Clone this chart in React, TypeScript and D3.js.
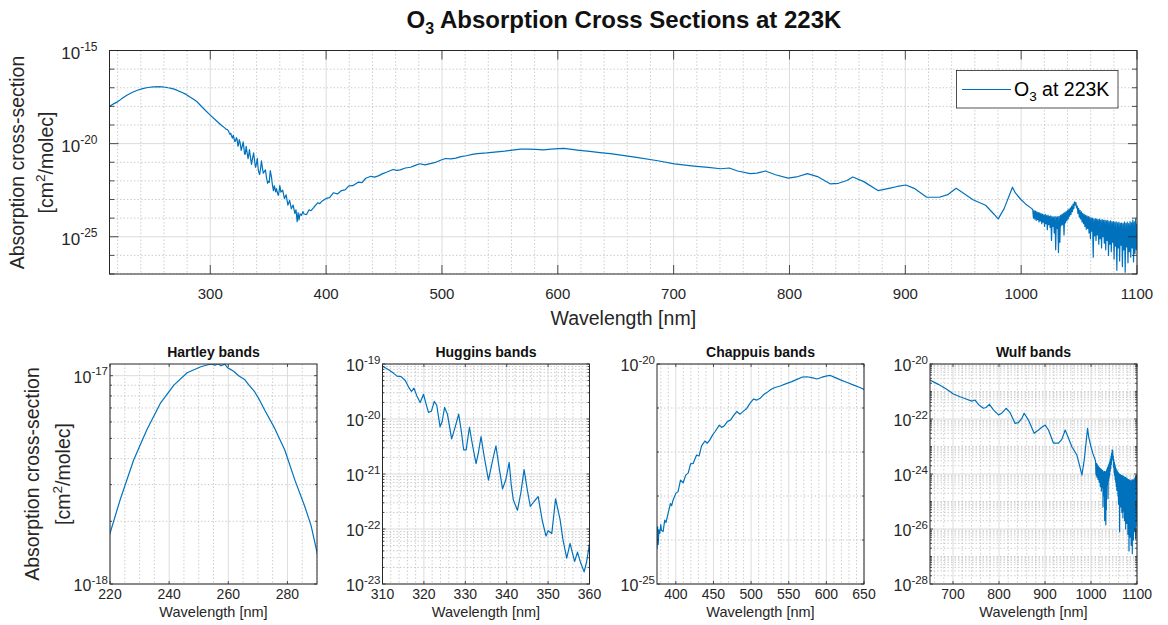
import React from 'react';
import * as d3 from 'd3';

// ---------- DATA: [wavelength nm, log10(cross-section cm^2/molec)] ----------
const uvEdge: [number, number][] = [
  [213, -18.0], [216, -17.88],
];
const hartleyBand: [number, number][] = [
  [220, -17.757], [223.4, -17.597], [228, -17.405], [232.5, -17.258], [237, -17.133],
  [241.6, -17.045], [246.1, -16.986], [250.7, -16.957], [252.5, -16.95], [254.1, -16.944],
  [255.5, -16.95], [256.5, -16.942], [257.5, -16.952], [258.8, -16.945], [259.8, -16.962],
  [261, -16.972], [262, -16.981], [263.5, -17.0], [265.5, -17.018], [267, -17.045],
  [268.9, -17.077], [270.5, -17.115], [272.3, -17.165], [275.7, -17.253], [279.1, -17.357],
  [282.5, -17.5], [285.9, -17.629], [288, -17.72], [290.2, -17.86],
];
const hartleyHugginsGap: [number, number][] = [
  [295, -18.17], [300, -18.47], [305, -18.76],
];
const hugginsBand: [number, number][] = [
  [310, -19.04], [311.4, -19.1], [312.7, -19.17], [313.5, -19.22], [314.5, -19.23],
  [315.5, -19.3], [316.3, -19.42], [317, -19.5], [317.6, -19.44], [318.3, -19.58],
  [319.1, -19.7], [319.9, -19.55], [320.5, -19.72], [321.1, -19.88], [321.8, -19.86],
  [322.5, -19.68], [323.1, -19.75], [323.9, -20.14], [324.4, -20.05], [325, -19.79],
  [325.7, -19.92], [326.7, -20.36], [327.5, -20.16], [328.4, -19.91], [329, -20.2],
  [329.6, -20.56], [330.2, -20.56], [331, -20.15], [331.8, -20.5], [332.6, -20.81],
  [333.2, -20.6], [333.8, -20.32], [334.6, -20.7], [335.6, -21.11], [336.6, -20.75],
  [337.4, -20.49], [338.2, -20.9], [339, -21.27], [339.8, -21.1], [340.6, -20.79],
  [341.1, -21.2], [341.6, -21.47], [342.6, -21.66], [343.4, -21.35], [344.2, -20.92],
  [345, -21.3], [345.7, -21.59], [346.6, -21.5], [347.6, -21.41], [348.6, -21.85],
  [349.5, -22.13], [350, -22.03], [350.9, -22.08], [351.8, -21.45], [352.9, -21.83],
  [353.6, -22.2], [354.5, -22.53], [355.3, -22.26], [356.4, -22.59], [357.1, -22.42],
  [357.8, -22.6], [358.7, -22.78], [359.3, -22.6], [360, -22.26],
];
const hugginsTail: [number, number][] = [
  [361, -22.6], [362.5, -22.5], [364, -22.95], [365.5, -22.75], [367, -23.3],
  [368.5, -23.05], [370, -23.5], [371.5, -23.3], [373, -23.75], [374, -23.55],
];
const chappuisBand: [number, number][] = [
  [375, -24.19], [375.8, -23.7], [376.6, -24.1], [377.5, -23.77], [378.7, -23.85],
  [380, -23.65], [380.9, -23.78], [383.1, -23.81], [385.3, -23.55], [387, -23.6],
  [389.8, -23.39], [392.9, -23.17], [394.5, -23.22], [396.4, -23.09], [400, -22.94],
  [403, -22.9], [406.2, -22.64], [409.8, -22.7], [413.3, -22.52], [416.4, -22.48],
  [419.6, -22.27], [423, -22.26], [427.6, -22.07], [431, -22.09], [434.2, -21.86],
  [438.7, -21.75], [441.8, -21.8], [445, -21.73], [448.9, -21.61], [452, -21.54],
  [457.8, -21.39], [460.9, -21.44], [464, -21.41], [468.4, -21.31], [472.9, -21.27],
  [476.4, -21.18], [480.9, -21.08], [485.3, -21.14], [490.7, -21.06], [494.2, -21.01],
  [498.7, -20.89], [503.1, -20.8], [507.6, -20.82], [512, -20.78], [516.4, -20.7],
  [520.9, -20.65], [526.2, -20.58], [530.7, -20.54], [538.7, -20.5], [547.6, -20.44],
  [554.2, -20.4], [560.9, -20.35], [567.6, -20.3], [574.2, -20.29], [580.9, -20.31],
  [587.6, -20.34], [594.2, -20.3], [600.9, -20.27], [605.3, -20.26], [612, -20.31],
  [618.7, -20.36], [627.6, -20.42], [636.4, -20.48], [645.3, -20.54],
];
const wulfBand: [number, number][] = [
  [650, -20.58], [668, -20.74], [686.3, -20.92], [700.8, -21.09], [715.3, -21.19],
  [729.8, -21.28], [740.7, -21.35], [748, -21.31], [755.2, -21.47], [766.1, -21.61],
  [771.9, -21.58], [779.2, -21.47], [787.9, -21.67], [798.8, -21.85], [806, -21.79],
  [815.5, -21.61], [824.2, -21.77], [835, -22.16], [842.3, -22.13], [849.6, -21.98],
  [854.6, -21.79], [864.1, -22.04], [876.4, -22.52], [885.9, -22.4], [893.1, -22.3],
  [900.4, -22.22], [907.6, -22.4], [918.5, -22.88], [929.4, -22.88], [936.6, -22.74],
  [943.9, -22.4], [951.2, -22.7], [958.4, -23.01], [969.3, -23.31], [976.6, -23.79],
  [980.2, -24.04], [985.3, -23.49], [992.5, -22.34], [995, -22.65], [999.8, -23.0],
  [1004, -23.25], [1009.2, -23.49],
];
const wulfNoisyTail: [number, number][] = [
  [1010.0, -23.55], [1010.6, -24.0], [1011.2, -23.6], [1011.8, -24.05], [1012.4, -23.62],
  [1013.0, -24.12], [1013.6, -23.66], [1014.2, -24.08], [1014.8, -23.7], [1015.4, -24.2],
  [1016.0, -23.72], [1016.6, -24.15], [1017.2, -23.76], [1017.8, -24.3], [1018.4, -23.78],
  [1019.0, -24.22], [1019.6, -23.82], [1020.2, -24.45], [1020.8, -23.8], [1021.4, -24.3],
  [1022.0, -23.86], [1022.6, -24.62], [1023.2, -23.84], [1023.8, -24.35], [1024.4, -23.9],
  [1025.0, -24.5], [1025.6, -23.88], [1026.2, -25.2], [1026.8, -23.92], [1027.4, -24.45],
  [1028.0, -23.95], [1028.6, -24.8], [1029.2, -23.9], [1029.8, -25.7], [1030.4, -23.95],
  [1031.0, -24.55], [1031.6, -23.92], [1032.2, -25.85], [1032.8, -23.9], [1033.4, -25.3],
  [1034.0, -23.85], [1034.6, -24.4], [1035.2, -23.8], [1035.8, -24.35], [1036.4, -23.75],
  [1037.0, -24.9], [1037.6, -23.7], [1038.2, -24.25], [1038.8, -23.65], [1039.4, -24.15],
  [1040.0, -23.58], [1040.6, -24.05], [1041.2, -23.52], [1041.8, -23.9], [1042.4, -23.45],
  [1043.0, -23.8], [1043.6, -23.35], [1044.2, -23.65], [1044.8, -23.25], [1045.4, -23.5],
  [1046.0, -23.12], [1046.6, -23.3], [1047.2, -23.15], [1047.8, -23.45], [1048.4, -23.35],
  [1049.0, -23.75], [1049.6, -23.48], [1050.2, -23.95], [1050.8, -23.58], [1051.4, -24.05],
  [1052.0, -23.66], [1052.6, -24.2], [1053.2, -23.74], [1053.8, -24.3], [1054.4, -23.8],
  [1055.0, -24.45], [1055.6, -23.85], [1056.2, -24.6], [1056.8, -23.88], [1057.4, -24.55],
  [1058.0, -23.92], [1058.6, -24.8], [1059.2, -23.95], [1059.8, -25.1], [1060.4, -23.98],
  [1061.0, -24.7], [1061.6, -24.0], [1062.2, -26.1], [1062.8, -24.05], [1063.4, -24.95],
  [1064.0, -24.02], [1064.6, -25.2], [1065.2, -24.05], [1065.8, -24.9], [1066.4, -24.08],
  [1067.0, -25.4], [1067.6, -24.05], [1068.2, -25.1], [1068.8, -24.1], [1069.4, -25.6],
  [1070.0, -24.08], [1070.6, -25.0], [1071.2, -24.12], [1071.8, -25.35], [1072.4, -24.1],
  [1073.0, -25.7], [1073.6, -24.15], [1074.2, -25.2], [1074.8, -24.12], [1075.4, -26.0],
  [1076.0, -24.18], [1076.6, -25.4], [1077.2, -24.15], [1077.8, -25.8], [1078.4, -24.2],
  [1079.0, -25.3], [1079.6, -24.18], [1080.2, -26.2], [1080.8, -24.22], [1081.4, -25.5],
  [1082.0, -24.2], [1082.6, -26.8], [1083.2, -24.25], [1083.8, -25.6], [1084.4, -24.22],
  [1085.0, -26.3], [1085.6, -24.28], [1086.2, -25.45], [1086.8, -24.25], [1087.4, -26.6],
  [1088.0, -24.3], [1088.6, -25.7], [1089.2, -24.2], [1089.8, -26.9], [1090.4, -24.28],
  [1091.0, -25.55], [1091.6, -24.22], [1092.2, -26.4], [1092.8, -24.3], [1093.4, -25.8],
  [1094.0, -24.18], [1094.6, -26.1], [1095.2, -24.25], [1095.8, -25.6], [1096.4, -24.1],
  [1097.0, -26.35], [1097.6, -24.2], [1098.2, -25.9], [1098.8, -24.05], [1099.4, -25.7],
  [1100.0, -24.3],
];

// tick definitions
const topXTicks = [300, 400, 500, 600, 700, 800, 900, 1000, 1100];
const topYTickExps = [-25, -20, -15];
const hartleyXTicks = [220, 240, 260, 280];
const hartleyYTickExps = [-18, -17];
const hugginsXTicks = [310, 320, 330, 340, 350, 360];
const hugginsYTickExps = [-23, -22, -21, -20, -19];
const chappuisXTicks = [400, 450, 500, 550, 600, 650];
const chappuisYTickExps = [-25, -20];
const wulfXTicks = [700, 800, 900, 1000, 1100];
const wulfYTickExps = [-28, -26, -24, -22, -20];

const spectrum = [
  ...uvEdge, ...hartleyBand, ...hartleyHugginsGap, ...hugginsBand, ...hugginsTail,
  ...chappuisBand, ...wulfBand, ...wulfNoisyTail,
].map(([nm, lg]) => ({ nm, sigma: Math.pow(10, lg) }));

// ---------- STYLE ----------
const FONT = '"Liberation Sans", Arial, Helvetica, sans-serif';
const AX = '#262626';
const LINE = '#0072BD';

type Box = { l: number; r: number; t: number; b: number };
type PanelProps = {
  id: string;
  box: Box;
  xDomain: [number, number];
  yDomain: [number, number];
  xTicks: number[];
  xMinorStep: number;
  yTickExps: number[];
  yMinorMult: boolean;
  tickLen: number;
  minorLen: number;
  xTickFont: number;
  xTickBaseline: number;
  yTickFont: number;
  ySupFont: number;
  yTickGap: number;
  yTickShift: number;
  title?: string;
  titleBaseline?: number;
  titleFont?: number;
  xLabel: string;
  xLabelBaseline: number;
  xLabelFont: number;
};

function Panel(p: PanelProps) {
  const { box } = p;
  const xs = d3.scaleLinear().domain(p.xDomain).range([box.l, box.r]);
  const ys = d3.scaleLog().domain(p.yDomain).range([box.b, box.t]);
  const [ylo, yhi] = p.yDomain;
  const eLo = Math.floor(Math.log10(ylo));
  const eHi = Math.ceil(Math.log10(yhi));
  const majorVals = p.yTickExps.map((e) => Math.pow(10, e));
  const minorVals: number[] = [];
  for (let e = eLo; e <= eHi; e++) {
    const mults = p.yMinorMult ? [1, 2, 3, 4, 5, 6, 7, 8, 9] : [1];
    for (const m of mults) {
      const v = m * Math.pow(10, e);
      if (v < ylo * 0.9999 || v > yhi * 1.0001) continue;
      if (m === 1 && p.yTickExps.includes(e)) continue;
      minorVals.push(v);
    }
  }
  const xMinor: number[] = [];
  const start = Math.ceil(p.xDomain[0] / p.xMinorStep) * p.xMinorStep;
  for (let v = start; v <= p.xDomain[1] + 1e-9; v += p.xMinorStep) {
    if (!p.xTicks.some((t) => Math.abs(t - v) < 1e-6)) xMinor.push(v);
  }
  const lo = p.xDomain[0];
  const hi = p.xDomain[1];
  let i0 = spectrum.findIndex((d) => d.nm >= lo);
  i0 = Math.max(0, i0 - 1);
  let i1 = spectrum.findIndex((d) => d.nm > hi);
  if (i1 < 0) i1 = spectrum.length - 1;
  const pts = spectrum.slice(i0, i1 + 1);
  const line = d3
    .line<{ nm: number; sigma: number }>()
    .x((d) => xs(d.nm))
    .y((d) => ys(d.sigma));
  const cx = (box.l + box.r) / 2;
  return (
    <g>
      <defs>
        <clipPath id={p.id}>
          <rect x={box.l} y={box.t} width={box.r - box.l} height={box.b - box.t} />
        </clipPath>
      </defs>
      <rect x={box.l} y={box.t} width={box.r - box.l} height={box.b - box.t} fill="#fff" />
      <g stroke="#b8b8b8" strokeWidth={0.7} strokeDasharray="1.5,2" fill="none">
        {xMinor.map((v) => (
          <line key={'xm' + v} x1={xs(v)} x2={xs(v)} y1={box.t} y2={box.b} />
        ))}
        {minorVals.map((v) => (
          <line key={'ym' + v} x1={box.l} x2={box.r} y1={ys(v)} y2={ys(v)} />
        ))}
      </g>
      <g stroke="#dcdcdc" strokeWidth={1} fill="none">
        {p.xTicks.map((v) => (
          <line key={'xg' + v} x1={xs(v)} x2={xs(v)} y1={box.t} y2={box.b} />
        ))}
        {majorVals.map((v) => (
          <line key={'yg' + v} x1={box.l} x2={box.r} y1={ys(v)} y2={ys(v)} />
        ))}
      </g>
      <path d={line(pts) || ''} fill="none" stroke={LINE} strokeWidth={1.2} strokeLinejoin="round" clipPath={`url(#${p.id})`} />
      <g stroke={AX} strokeWidth={0.8}>
        {p.xTicks.map((v) => (
          <g key={'xt' + v}>
            <line x1={xs(v)} x2={xs(v)} y1={box.b} y2={box.b - p.tickLen} />
            <line x1={xs(v)} x2={xs(v)} y1={box.t} y2={box.t + p.tickLen} />
          </g>
        ))}
        {majorVals.map((v) => (
          <g key={'yt' + v}>
            <line x1={box.l} x2={box.l + p.tickLen} y1={ys(v)} y2={ys(v)} />
            <line x1={box.r} x2={box.r - p.tickLen} y1={ys(v)} y2={ys(v)} />
          </g>
        ))}
        {minorVals.map((v) => (
          <g key={'ymt' + v}>
            <line x1={box.l} x2={box.l + p.minorLen} y1={ys(v)} y2={ys(v)} />
            <line x1={box.r} x2={box.r - p.minorLen} y1={ys(v)} y2={ys(v)} />
          </g>
        ))}
      </g>
      <rect x={box.l} y={box.t} width={box.r - box.l} height={box.b - box.t} fill="none" stroke={AX} strokeWidth={1} />
      <g fill={AX} fontFamily={FONT}>
        {p.xTicks.map((v) => (
          <text key={'xl' + v} x={xs(v)} y={box.b + p.xTickBaseline} textAnchor="middle" fontSize={p.xTickFont}>
            {v}
          </text>
        ))}
        {p.yTickExps.map((e) => (
          <text
            key={'yl' + e}
            x={box.l - p.yTickGap}
            y={ys(Math.pow(10, e)) + p.yTickShift}
            textAnchor="end"
            fontSize={p.yTickFont}
          >
            10
            <tspan dy={-p.yTickFont * 0.45} fontSize={p.ySupFont}>
              {String(e)}
            </tspan>
          </text>
        ))}
      </g>
      <text x={cx} y={p.xLabelBaseline} textAnchor="middle" fontFamily={FONT} fontSize={p.xLabelFont} fill={AX}>
        {p.xLabel}
      </text>
      {p.title && (
        <text
          x={cx}
          y={p.titleBaseline}
          textAnchor="middle"
          fontFamily={FONT}
          fontSize={p.titleFont}
          fontWeight="bold"
          fill="#111"
        >
          {p.title}
        </text>
      )}
    </g>
  );
}

function YLabel({ x1, x2, cy, size }: { x1: number; x2: number; cy: number; size: number }) {
  return (
    <g fontFamily={FONT} fontSize={size} fill={AX}>
      <text transform={`translate(${x1},${cy}) rotate(-90)`} textAnchor="middle">
        Absorption cross-section
      </text>
      <text transform={`translate(${x2},${cy}) rotate(-90)`} textAnchor="middle">
        [cm
        <tspan dy={-size * 0.4} fontSize={size * 0.7}>
          2
        </tspan>
        <tspan dy={size * 0.4}>/molec]</tspan>
      </text>
    </g>
  );
}

export default function App() {
  const W = 1168;
  const H = 625;
  const topBox: Box = { l: 109.5, r: 1137, t: 50.5, b: 274 };
  const bw = 207;
  const bt = 364;
  const bb = 584;
  const lefts = [110, 382.5, 657, 930];
  const common = {
    tickLen: 3,
    minorLen: 2,
    xTickFont: 14,
    xTickBaseline: 14.5,
    yTickFont: 16,
    ySupFont: 11.5,
    yTickGap: 2,
    yTickShift: 7,
    titleBaseline: 357,
    titleFont: 14,
    xLabel: 'Wavelength [nm]',
    xLabelBaseline: 617,
    xLabelFont: 14.5,
  };
  return (
    <svg
      width={W}
      height={H}
      viewBox={`0 0 ${W} ${H}`}
      style={{ position: 'absolute', left: 0, top: 0, background: '#fff' }}
    >
      <rect x={0} y={0} width={W} height={H} fill="#fff" />
      <text x={624} y={28} textAnchor="middle" fontFamily={FONT} fontSize={24} fontWeight="bold" fill="#111">
        O
        <tspan dy={6} fontSize={16}>
          3
        </tspan>
        <tspan dy={-6}> Absorption Cross Sections at 223K</tspan>
      </text>
      <Panel
        id="clipTop"
        box={topBox}
        xDomain={[213, 1100]}
        yDomain={[1e-27, 1e-15]}
        xTicks={topXTicks}
        xMinorStep={20}
        yTickExps={topYTickExps}
        yMinorMult={false}
        tickLen={9}
        minorLen={5}
        xTickFont={15}
        xTickBaseline={25}
        yTickFont={17}
        ySupFont={12}
        yTickGap={12}
        yTickShift={8}
        xLabel="Wavelength [nm]"
        xLabelBaseline={325}
        xLabelFont={19.5}
      />
      <g>
        <rect x={956.5} y={70.5} width={161.5} height={37.5} fill="#fff" stroke={AX} strokeWidth={0.8} />
        <line x1={962} x2={1011} y1={89.5} y2={89.5} stroke={LINE} strokeWidth={1.2} />
        <text x={1014} y={95.5} fontFamily={FONT} fontSize={19.5} fill="#000">
          O
          <tspan dy={5} fontSize={13.5}>
            3
          </tspan>
          <tspan dy={-5}> at 223K</tspan>
        </text>
      </g>
      <YLabel x1={24} x2={53} cy={162.5} size={19.5} />

      <Panel
        id="clipHartley"
        box={{ l: lefts[0], r: lefts[0] + bw, t: bt, b: bb }}
        xDomain={[220, 290]}
        yDomain={[1e-18, 1.138e-17]}
        xTicks={hartleyXTicks}
        xMinorStep={5}
        yTickExps={hartleyYTickExps}
        yMinorMult={true}
        title="Hartley bands"
        {...common}
      />
      <Panel
        id="clipHuggins"
        box={{ l: lefts[1], r: lefts[1] + bw, t: bt, b: bb }}
        xDomain={[310, 360]}
        yDomain={[1e-23, 1e-19]}
        xTicks={hugginsXTicks}
        xMinorStep={2}
        yTickExps={hugginsYTickExps}
        yMinorMult={true}
        title="Huggins bands"
        {...common}
      />
      <Panel
        id="clipChappuis"
        box={{ l: lefts[2], r: lefts[2] + bw, t: bt, b: bb }}
        xDomain={[375, 650]}
        yDomain={[1e-25, 1e-20]}
        xTicks={chappuisXTicks}
        xMinorStep={10}
        yTickExps={chappuisYTickExps}
        yMinorMult={false}
        title="Chappuis bands"
        {...common}
      />
      <Panel
        id="clipWulf"
        box={{ l: lefts[3], r: lefts[3] + bw, t: bt, b: bb }}
        xDomain={[650, 1100]}
        yDomain={[1e-28, 1e-20]}
        xTicks={wulfXTicks}
        xMinorStep={20}
        yTickExps={wulfYTickExps}
        yMinorMult={true}
        title="Wulf bands"
        {...common}
      />
      <YLabel x1={39} x2={70} cy={474} size={19.5} />
    </svg>
  );
}
